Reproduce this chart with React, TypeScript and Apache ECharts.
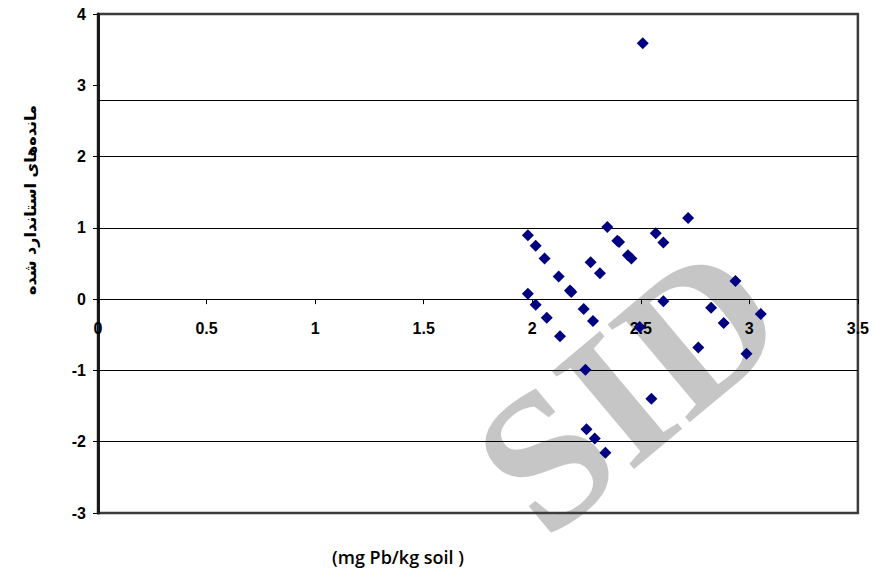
import React, { useEffect, useRef } from "react";
import * as echarts from "echarts";

// Standardized residuals vs. Pb concentration
const residualPoints: [number, number][] = [
  [2.509, 3.59],
  [1.98, 0.896], [2.016, 0.75], [2.057, 0.57], [2.122, 0.316], [2.174, 0.12], [2.18, 0.1],
  [1.98, 0.077], [2.016, -0.077], [2.067, -0.26], [2.128, -0.522],
  [2.237, -0.139], [2.28, -0.307], [2.269, 0.517], [2.312, 0.362],
  [2.346, 1.013], [2.392, 0.82], [2.4, 0.8], [2.441, 0.615], [2.457, 0.569],
  [2.569, 0.924], [2.604, 0.793], [2.718, 1.139], [2.604, -0.031], [2.495, -0.39],
  [2.824, -0.12], [2.882, -0.335], [2.936, 0.254], [3.053, -0.209], [2.765, -0.68],
  [2.987, -0.766], [2.549, -1.397],
  [2.245, -0.99], [2.25, -1.824], [2.288, -1.955], [2.337, -2.156],
];

const xRange = { min: 0, max: 3.5, interval: 0.5 };
const yRange = { min: -3, max: 4, interval: 1 };
const horizontalLines = [-2, -1, 1, 2, 2.79];

const yTitle = "مانده‌های استاندارد شده";
const xTitle = "(mg Pb/kg soil )";

const GRID = { left: 98, right: 14, top: 14, bottom: 58 };
const CHART_H = 571;

export default function App() {
  const ref = useRef<HTMLDivElement>(null);

  useEffect(() => {
    if (!ref.current) return;
    const chart = echarts.init(ref.current, undefined, { renderer: "svg" });
    const labelFont = "'Liberation Sans', Arial, sans-serif";
    const plotH = CHART_H - GRID.top - GRID.bottom;
    const zeroOffset = -(plotH * (0 - yRange.min)) / (yRange.max - yRange.min);
    chart.setOption({
      animation: false,
      backgroundColor: "#ffffff",
      grid: {
        ...GRID,
        show: true,
        borderColor: "#3c3c3c",
        borderWidth: 2.5,
        backgroundColor: "transparent",
      },
      xAxis: {
        type: "value",
        min: xRange.min,
        max: xRange.max,
        interval: xRange.interval,
        position: "bottom",
        offset: zeroOffset,
        axisLine: { show: true, onZero: false, lineStyle: { color: "#000", width: 1 } },
        axisTick: { show: true, length: 5, inside: false, lineStyle: { color: "#000", width: 1 } },
        axisLabel: {
          show: true,
          margin: 21,
          color: "#000",
          fontSize: 16,
          fontWeight: "bold",
          fontFamily: labelFont,
          showMinLabel: true,
          showMaxLabel: true,
        },
        splitLine: { show: false },
      },
      yAxis: {
        type: "value",
        min: yRange.min,
        max: yRange.max,
        interval: yRange.interval,
        axisLine: { show: true, onZero: false, lineStyle: { color: "#1a1a1a", width: 3 } },
        axisTick: { show: true, length: 5, lineStyle: { color: "#000", width: 1 } },
        axisLabel: {
          margin: 12,
          color: "#000",
          fontSize: 16,
          fontWeight: "bold",
          fontFamily: labelFont,
        },
        splitLine: { show: false },
      },
      graphic: [
        {
          type: "text",
          z: -10,
          silent: true,
          x: 628,
          y: 388,
          rotation: (40 * Math.PI) / 180,
          style: {
            text: "SID",
            fill: "#c6c6c6",
            font: "bold 195px 'Liberation Serif', 'DejaVu Serif', serif",
            align: "center",
            verticalAlign: "middle",
          },
        },
        {
          type: "text",
          x: 30,
          y: 200,
          rotation: Math.PI / 2,
          style: {
            text: yTitle,
            fill: "#000",
            font: "bold 16px 'DejaVu Sans', sans-serif",
            align: "center",
            verticalAlign: "middle",
          },
        },
        {
          type: "text",
          x: 398,
          y: 557,
          style: {
            text: xTitle,
            fill: "#000",
            font: "600 18px 'Open Sans', 'DejaVu Sans', sans-serif",
            align: "center",
            verticalAlign: "middle",
          },
        },
      ],
      series: [
        {
          type: "scatter",
          data: residualPoints,
          symbol: "diamond",
          symbolSize: 12,
          itemStyle: { color: "#000080", opacity: 1 },
          z: 5,
          markLine: {
            silent: true,
            symbol: "none",
            label: { show: false },
            lineStyle: { color: "#000", width: 1, type: "solid" },
            data: horizontalLines.map((v) => ({ yAxis: v })),
            z: 1,
          },
        },
      ],
    });
    return () => chart.dispose();
  }, []);

  return (
    <div
      ref={ref}
      style={{ position: "fixed", left: 0, top: 0, width: 872, height: 571 }}
    />
  );
}
